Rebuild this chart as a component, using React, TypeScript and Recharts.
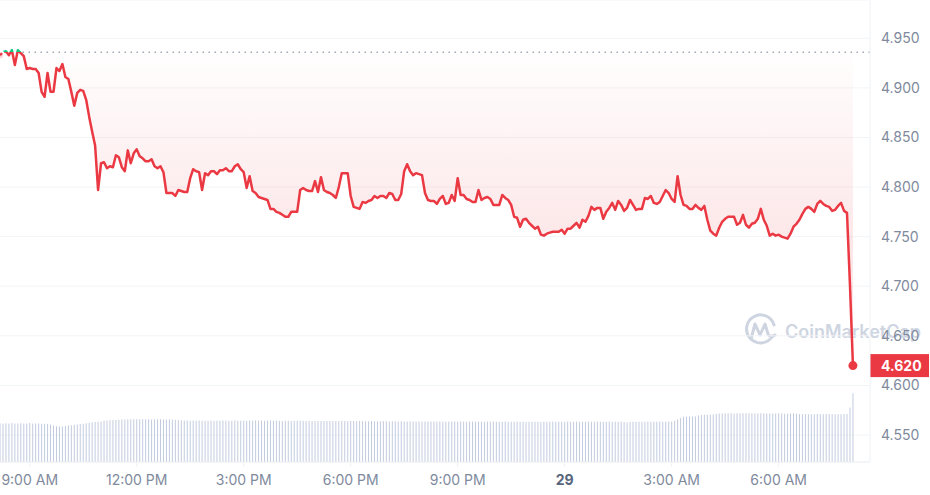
import {
  ComposedChart,
  Area,
  Line,
  Bar,
  XAxis,
  YAxis,
  CartesianGrid,
  ReferenceLine,
  ReferenceDot,
} from "recharts";

// 5-minute candles, first one at 8:10 AM (minutes since midnight of day 1)
const START_MIN = 490;
const STEP_MIN = 5;

// price, one row per hour
const price = [
  4.933, 4.936, 4.937, 4.933, 4.938, 4.923, 4.938, 4.935, 4.932, 4.919, 4.92, 4.919,
  4.919, 4.915, 4.896, 4.891, 4.915, 4.896, 4.896, 4.92, 4.917, 4.924, 4.911, 4.909,
  4.896, 4.882, 4.895, 4.898, 4.897, 4.888, 4.871, 4.856, 4.842, 4.797, 4.824, 4.825,
  4.819, 4.821, 4.82, 4.832, 4.83, 4.82, 4.816, 4.837, 4.824, 4.834, 4.838, 4.831,
  4.829, 4.826, 4.826, 4.828, 4.821, 4.819, 4.821, 4.815, 4.794, 4.794, 4.794, 4.791,
  4.797, 4.796, 4.795, 4.795, 4.809, 4.818, 4.816, 4.815, 4.797, 4.814, 4.812, 4.816,
  4.816, 4.813, 4.817, 4.817, 4.819, 4.816, 4.816, 4.821, 4.823, 4.818, 4.815, 4.799,
  4.811, 4.796, 4.794, 4.79, 4.789, 4.788, 4.787, 4.778, 4.778, 4.775, 4.774, 4.772,
  4.77, 4.77, 4.775, 4.775, 4.775, 4.797, 4.799, 4.797, 4.796, 4.796, 4.806, 4.795,
  4.81, 4.797, 4.795, 4.794, 4.792, 4.789, 4.8, 4.814, 4.814, 4.814, 4.791, 4.78,
  4.779, 4.778, 4.785, 4.784, 4.786, 4.787, 4.791, 4.789, 4.791, 4.791, 4.789, 4.794,
  4.793, 4.787, 4.787, 4.793, 4.816, 4.823, 4.816, 4.812, 4.814, 4.813, 4.812, 4.794,
  4.787, 4.786, 4.786, 4.783, 4.788, 4.791, 4.783, 4.784, 4.792, 4.786, 4.809, 4.792,
  4.792, 4.788, 4.787, 4.785, 4.785, 4.797, 4.787, 4.789, 4.79, 4.788, 4.782, 4.782,
  4.782, 4.792, 4.789, 4.787, 4.782, 4.77, 4.769, 4.76, 4.767, 4.768, 4.764, 4.761,
  4.758, 4.76, 4.752, 4.751, 4.753, 4.754, 4.755, 4.755, 4.755, 4.757, 4.753, 4.758,
  4.758, 4.761, 4.764, 4.759, 4.767, 4.765, 4.771, 4.78, 4.777, 4.779, 4.779, 4.768,
  4.775, 4.779, 4.784, 4.777, 4.786, 4.782, 4.776, 4.779, 4.787, 4.782, 4.777, 4.778,
  4.778, 4.789, 4.788, 4.791, 4.784, 4.783, 4.785, 4.791, 4.797, 4.794, 4.788, 4.785,
  4.811, 4.792, 4.782, 4.781, 4.778, 4.778, 4.782, 4.779, 4.777, 4.781, 4.767, 4.756,
  4.753, 4.751, 4.759, 4.765, 4.768, 4.77, 4.77, 4.77, 4.762, 4.764, 4.772, 4.762,
  4.759, 4.763, 4.764, 4.768, 4.778, 4.767, 4.761, 4.751, 4.753, 4.751, 4.752, 4.75,
  4.749, 4.748, 4.753, 4.76, 4.763, 4.767, 4.773, 4.778, 4.78, 4.778, 4.775, 4.783,
  4.786, 4.783, 4.781, 4.78, 4.776, 4.777, 4.781, 4.784, 4.776, 4.774, 4.701, 4.62,
];

// volume (relative units), one row per hour
const volume = [
  38.6, 38.4, 38.7, 38.5, 38.9, 38.6, 38.4, 38.8, 38.5, 38.6, 39.0, 38.6,
  38.4, 38.5, 38.2, 38.3, 38.0, 37.6, 36.4, 35.8, 35.5, 35.6, 35.9, 36.4,
  36.8, 37.2, 37.6, 38.0, 38.3, 38.7, 39.1, 39.5, 40.0, 40.3, 40.6, 41.2,
  41.6, 41.8, 42.0, 42.1, 42.3, 42.5, 42.6, 42.7, 42.8, 42.7, 42.8, 42.7,
  42.8, 42.7, 42.8, 42.6, 42.7, 42.8, 42.7, 42.6, 42.5, 42.7, 42.4, 42.3,
  42.0, 41.8, 41.6, 41.4, 41.3, 41.3, 41.2, 41.4, 41.3, 41.2, 41.3, 41.4,
  41.3, 41.2, 41.3, 41.4, 41.5, 41.3, 41.2, 41.4, 41.3, 41.2, 41.3, 41.3,
  41.4, 41.5, 41.7, 41.5, 41.4, 41.3, 41.5, 41.4, 41.3, 41.2, 41.3, 41.1,
  41.2, 41.3, 41.1, 41.2, 41.3, 41.2, 41.0, 41.1, 41.2, 41.0, 41.1, 41.0,
  41.1, 41.0, 40.9, 41.1, 41.0, 40.9, 41.0, 41.2, 41.0, 40.8, 41.0, 40.9,
  40.8, 40.9, 41.0, 40.8, 40.7, 40.9, 40.8, 40.7, 40.8, 40.9, 40.7, 40.6,
  40.7, 40.8, 40.6, 40.7, 40.5, 40.6, 40.7, 40.5, 40.6, 40.5, 40.4, 40.6,
  40.5, 40.4, 40.5, 40.6, 40.4, 40.5, 40.3, 40.4, 40.5, 40.4, 40.3, 40.5,
  40.4, 40.3, 40.4, 40.5, 40.3, 40.4, 40.3, 40.2, 40.4, 40.3, 40.4, 40.3,
  40.2, 40.3, 40.4, 40.3, 40.2, 40.3, 40.4, 40.2, 40.3, 40.1, 40.3, 40.2,
  40.3, 40.2, 40.1, 40.3, 40.2, 40.3, 40.4, 40.2, 40.3, 40.2, 40.3, 40.4,
  40.3, 40.2, 40.4, 40.3, 40.2, 40.3, 40.4, 40.2, 40.3, 40.4, 40.3, 40.2,
  40.3, 40.4, 40.2, 40.3, 40.2, 40.4, 40.1, 39.4, 39.9, 40.2, 40.3, 40.2,
  40.3, 40.2, 40.4, 40.3, 40.2, 40.3, 40.4, 40.2, 40.3, 40.4, 40.6, 41.3,
  42.4, 44.0, 45.2, 45.3, 45.4, 45.4, 45.6, 46.4, 47.0, 47.2, 47.3, 47.4,
  47.6, 48.2, 48.5, 48.6, 48.7, 48.7, 48.8, 48.6, 48.7, 48.8, 48.7, 48.8,
  48.7, 48.8, 48.7, 48.6, 48.8, 48.7, 48.6, 48.4, 48.5, 48.6, 48.7, 48.6,
  48.3, 48.2, 48.6, 48.7, 48.6, 48.0, 47.8, 47.9, 47.8, 47.7, 47.8, 47.9,
  47.8, 47.7, 48.0, 47.9, 47.7, 47.8, 47.7, 47.8, 48.0, 47.9, 54.5, 68.7,
];

const OPEN_PRICE = 4.936;
const Y_TICKS = [4.55, 4.6, 4.65, 4.7, 4.75, 4.8, 4.85, 4.9, 4.95];
const Y_DOMAIN = [4.5228, 4.9886];
const X_TICKS = [540, 720, 900, 1080, 1260, 1440, 1620, 1800];
const X_LABELS = ["9:00 AM", "12:00 PM", "3:00 PM", "6:00 PM", "9:00 PM", "29", "3:00 AM", "6:00 AM"];
const X_DOMAIN = [490, 1953.7];
const VOL_DOMAIN = [0, 462];

const RED = "#ea3943";
const GREEN = "#16c784";
const MUTED = "#808a9d";
const BORDER = "#eff2f5";

const data = price.map((p, i) => ({
  t: START_MIN + i * STEP_MIN,
  price: p,
  volume: volume[i],
}));

const last = data[data.length - 1];
const maxP = Math.max(...price);
const minP = Math.min(...price);
const splitOffset = (maxP - OPEN_PRICE) / (maxP - minP);

function XTick(props: any) {
  const { x, y, payload } = props;
  const label = X_LABELS[X_TICKS.indexOf(payload.value)];
  const isDay = label === "29";
  return (
    <text
      x={x}
      y={y}
      dy={14}
      textAnchor="middle"
      fill={isDay ? "#58667e" : MUTED}
      fontSize={14}
      fontWeight={isDay ? 700 : 400}
    >
      {label}
    </text>
  );
}

function PriceTag(props: any) {
  const { viewBox } = props;
  if (!viewBox) return null;
  const x = viewBox.x + viewBox.width;
  const y = viewBox.y;
  return (
    <g>
      <rect x={x} y={y - 11.5} width={59} height={23} fill={RED} />
      <text x={x + 11} y={y} dy="0.355em" fill="#fff" fontSize={14} fontWeight={700}>
        {last.price.toFixed(3)}
      </text>
    </g>
  );
}

function Watermark() {
  const c = "#a7b4ca";
  return (
    <svg
      width={930}
      height={495}
      style={{ position: "absolute", left: 0, top: 0, opacity: 0.55 }}
    >
      <g fill="none" stroke={c} strokeWidth={3} strokeLinecap="round" strokeLinejoin="round">
        <path d="M772 337 A14 14 0 1 1 774 325" />
        <path d="M751 339 L755 324 L760 335 L765 324 L768 334 Q770 338 775 335" />
      </g>
      <text x={785} y={338} fill={c} fontSize={18} fontWeight={600} fontFamily="Inter, sans-serif">
        CoinMarketCap
      </text>
    </svg>
  );
}

export default function App() {
  return (
    <div
      style={{
        position: "absolute",
        left: 0,
        top: 0,
        width: 930,
        height: 495,
        background: "#fff",
        fontFamily: "Inter, sans-serif",
      }}
    >
      <Watermark />
      <div style={{ position: "absolute", left: 0, top: 0 }}>
        <ComposedChart
          width={930}
          height={495}
          data={data}
          margin={{ top: 0, right: 0, bottom: 0, left: 0 }}
        >
          <defs>
            <linearGradient id="areaFill" x1="0" y1="0" x2="0" y2="1">
              <stop offset="0%" stopColor={RED} stopOpacity={0.01} />
              <stop offset="60%" stopColor={RED} stopOpacity={0.2} />
              <stop offset="100%" stopColor={RED} stopOpacity={0.26} />
            </linearGradient>
            <linearGradient id="lineStroke" x1="0" y1="0" x2="0" y2="1">
              <stop offset={0} stopColor={GREEN} />
              <stop offset={splitOffset} stopColor={GREEN} />
              <stop offset={splitOffset} stopColor={RED} />
              <stop offset={1} stopColor={RED} />
            </linearGradient>
          </defs>
          <CartesianGrid yAxisId="price" vertical={false} stroke="#f3f4f7" />
          <XAxis
            dataKey="t"
            type="number"
            domain={X_DOMAIN}
            ticks={X_TICKS}
            height={33}
            tick={<XTick />}
            tickSize={5}
            tickMargin={4}
            stroke={BORDER}
            interval={0}
          />
          <YAxis
            yAxisId="price"
            orientation="right"
            domain={Y_DOMAIN}
            ticks={Y_TICKS}
            width={60}
            tickLine={false}
            tickMargin={5}
            stroke={BORDER}
            allowDataOverflow
            tick={{ fill: MUTED, fontSize: 14 }}
            tickFormatter={(v: number) => v.toFixed(3)}
            interval={0}
          />
          <YAxis yAxisId="vol" hide domain={VOL_DOMAIN} />
          <Bar
            yAxisId="vol"
            dataKey="volume"
            barSize={1}
            fill="#c2cbdf"
            isAnimationActive={false}
          />
          <Area
            yAxisId="price"
            type="linear"
            dataKey="price"
            baseValue={OPEN_PRICE}
            stroke="none"
            fill="url(#areaFill)"
            isAnimationActive={false}
          />
          <ReferenceLine
            yAxisId="price"
            y={OPEN_PRICE}
            stroke="#a3a9b5"
            strokeWidth={1.5}
            strokeDasharray="1.5 4.5"
          />
          <Line
            yAxisId="price"
            type="linear"
            dataKey="price"
            stroke="url(#lineStroke)"
            strokeWidth={2.5}
            strokeLinejoin="round"
            dot={false}
            activeDot={false}
            isAnimationActive={false}
          />
          <ReferenceDot
            yAxisId="price"
            x={last.t}
            y={last.price}
            r={4.5}
            fill={RED}
            stroke="none"
          />
          <ReferenceLine
            yAxisId="price"
            y={last.price}
            stroke="none"
            label={<PriceTag />}
          />
        </ComposedChart>
      </div>
    </div>
  );
}
